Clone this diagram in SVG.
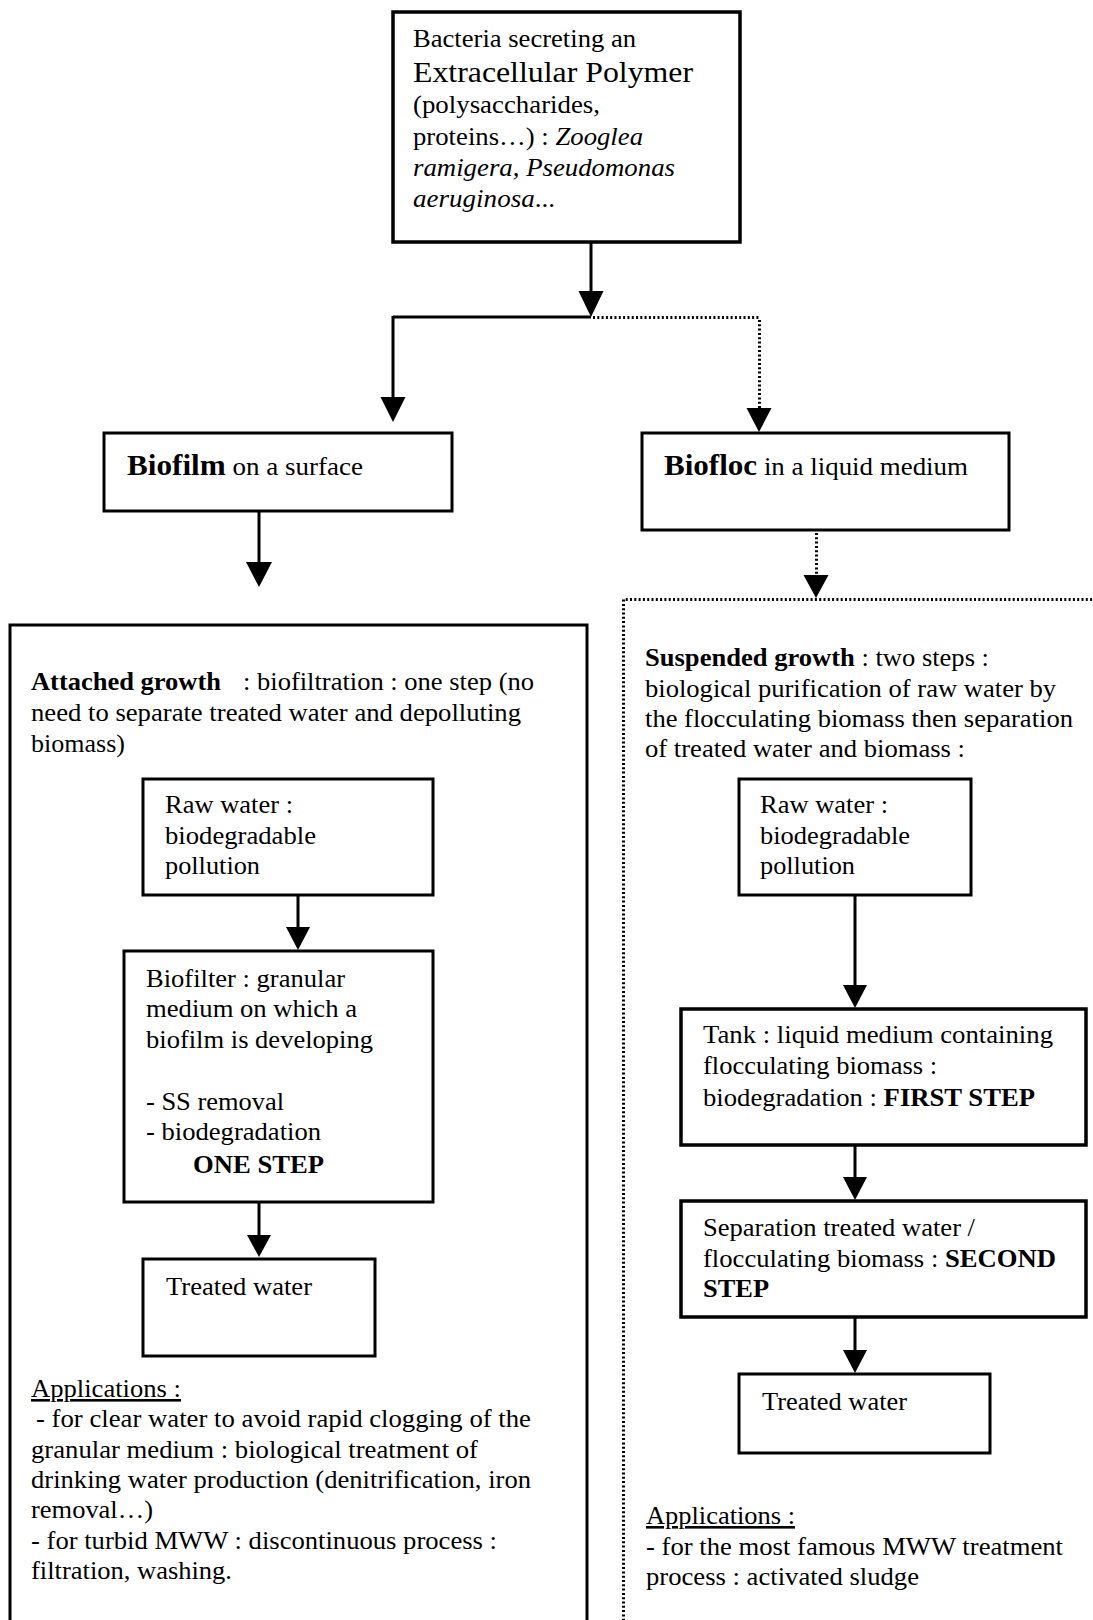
<svg xmlns="http://www.w3.org/2000/svg" width="1093" height="1620" viewBox="0 0 1093 1620">
<style>
text{font-family:"Liberation Serif","Times New Roman",Tinos,serif;font-size:26px;fill:#000}
.b{font-weight:bold}
.i{font-style:italic}
.big{font-size:30px}
.box{fill:#fff;stroke:#000;stroke-width:3}
.thick{stroke-width:3.5}
.conn{stroke:#000;stroke-width:3;fill:none}
.dot{stroke:#000;stroke-width:3;fill:none;stroke-dasharray:2 2.3}
.ah{fill:#000}
.u{text-decoration:underline}
</style>
<rect width="1093" height="1620" fill="#fff"/>

<g id="node-attached-growth">
<rect class="box" x="10" y="625" width="577" height="1100"/>
<text class="b" x="31" y="690" textLength="190" lengthAdjust="spacingAndGlyphs">Attached growth</text>
<text x="243" y="690" textLength="291" lengthAdjust="spacingAndGlyphs">: biofiltration : one step (no</text>
<text x="31" y="721" textLength="490" lengthAdjust="spacingAndGlyphs">need to separate treated water and depolluting</text>
<text x="31" y="752" textLength="94" lengthAdjust="spacingAndGlyphs">biomass)</text>
<text class="u" x="31" y="1397" textLength="150" lengthAdjust="spacingAndGlyphs">Applications :</text>
<text x="36" y="1427" textLength="495" lengthAdjust="spacingAndGlyphs">- for clear water to avoid rapid clogging of the</text>
<text x="31" y="1458" textLength="447" lengthAdjust="spacingAndGlyphs">granular medium : biological treatment of</text>
<text x="31" y="1488" textLength="500" lengthAdjust="spacingAndGlyphs">drinking water production (denitrification, iron</text>
<text x="31" y="1518" textLength="122" lengthAdjust="spacingAndGlyphs">removal…)</text>
<text x="31" y="1549" textLength="466" lengthAdjust="spacingAndGlyphs">- for turbid MWW : discontinuous process :</text>
<text x="31" y="1579" textLength="201" lengthAdjust="spacingAndGlyphs">filtration, washing.</text>
</g>

<g id="node-suspended-growth">
<path class="dot" d="M623.5,1625 V599.5 H1098"/>
<text x="645" y="666" textLength="344" lengthAdjust="spacingAndGlyphs"><tspan class="b">Suspended growth</tspan> : two steps :</text>
<text x="645" y="697" textLength="411" lengthAdjust="spacingAndGlyphs">biological purification of raw water by</text>
<text x="645" y="727" textLength="428" lengthAdjust="spacingAndGlyphs">the flocculating biomass then separation</text>
<text x="645" y="757" textLength="320" lengthAdjust="spacingAndGlyphs">of treated water and biomass :</text>
<text class="u" x="646" y="1524" textLength="149" lengthAdjust="spacingAndGlyphs">Applications :</text>
<text x="646" y="1555" textLength="417" lengthAdjust="spacingAndGlyphs">- for the most famous MWW treatment</text>
<text x="646" y="1585" textLength="273" lengthAdjust="spacingAndGlyphs">process : activated sludge</text>
</g>

<g id="node-bacteria">
<rect class="box thick" x="393" y="12" width="347" height="230"/>
<text x="413" y="47" textLength="223" lengthAdjust="spacingAndGlyphs">Bacteria secreting an</text>
<text class="big" x="413" y="82" textLength="280" lengthAdjust="spacingAndGlyphs">Extracellular Polymer</text>
<text x="413" y="113" textLength="187" lengthAdjust="spacingAndGlyphs">(polysaccharides,</text>
<text x="413" y="145" textLength="230" lengthAdjust="spacingAndGlyphs">proteins…) : <tspan class="i">Zooglea</tspan></text>
<text class="i" x="413" y="176" textLength="262" lengthAdjust="spacingAndGlyphs">ramigera, Pseudomonas</text>
<text x="413" y="207" textLength="142" lengthAdjust="spacingAndGlyphs"><tspan class="i">aeruginosa</tspan>...</text>
</g>

<g id="node-biofilm">
<rect class="box" x="104" y="433" width="348" height="78"/>
<text x="127" y="475" textLength="236" lengthAdjust="spacingAndGlyphs"><tspan class="b big">Biofilm</tspan> on a surface</text>
</g>

<g id="node-biofloc">
<rect class="box" x="642" y="433" width="367" height="97"/>
<text x="664" y="475" textLength="304" lengthAdjust="spacingAndGlyphs"><tspan class="b big">Biofloc</tspan> in a liquid medium</text>
</g>

<g id="node-raw-water-left">
<rect class="box" x="143" y="779" width="290" height="116"/>
<text x="165" y="813" textLength="128" lengthAdjust="spacingAndGlyphs">Raw water :</text>
<text x="165" y="844" textLength="151" lengthAdjust="spacingAndGlyphs">biodegradable</text>
<text x="165" y="874" textLength="95" lengthAdjust="spacingAndGlyphs">pollution</text>
</g>

<g id="node-biofilter">
<rect class="box" x="124" y="951" width="309" height="251"/>
<text x="146" y="987" textLength="199" lengthAdjust="spacingAndGlyphs">Biofilter : granular</text>
<text x="146" y="1017" textLength="211" lengthAdjust="spacingAndGlyphs">medium on which a</text>
<text x="146" y="1048" textLength="227" lengthAdjust="spacingAndGlyphs">biofilm is developing</text>
<text x="146" y="1110" textLength="138" lengthAdjust="spacingAndGlyphs">- SS removal</text>
<text x="146" y="1140" textLength="175" lengthAdjust="spacingAndGlyphs">- biodegradation</text>
<text class="b" x="193" y="1173" textLength="131" lengthAdjust="spacingAndGlyphs">ONE STEP</text>
</g>

<g id="node-treated-water-left">
<rect class="box" x="143" y="1259" width="232" height="97"/>
<text x="166" y="1295" textLength="146" lengthAdjust="spacingAndGlyphs">Treated water</text>
</g>

<g id="node-raw-water-right">
<rect class="box" x="739" y="779" width="232" height="116"/>
<text x="760" y="813" textLength="128" lengthAdjust="spacingAndGlyphs">Raw water :</text>
<text x="760" y="844" textLength="150" lengthAdjust="spacingAndGlyphs">biodegradable</text>
<text x="760" y="874" textLength="95" lengthAdjust="spacingAndGlyphs">pollution</text>
</g>

<g id="node-tank">
<rect class="box thick" x="681" y="1009" width="405" height="136"/>
<text x="703" y="1043" textLength="350" lengthAdjust="spacingAndGlyphs">Tank : liquid medium containing</text>
<text x="703" y="1074" textLength="234" lengthAdjust="spacingAndGlyphs">flocculating biomass :</text>
<text x="703" y="1106" textLength="332" lengthAdjust="spacingAndGlyphs">biodegradation : <tspan class="b">FIRST STEP</tspan></text>
</g>

<g id="node-separation">
<rect class="box thick" x="681" y="1201" width="405" height="116"/>
<text x="703" y="1236" textLength="272" lengthAdjust="spacingAndGlyphs">Separation treated water /</text>
<text x="703" y="1267" textLength="353" lengthAdjust="spacingAndGlyphs">flocculating biomass : <tspan class="b">SECOND</tspan></text>
<text class="b" x="703" y="1297" textLength="66" lengthAdjust="spacingAndGlyphs">STEP</text>
</g>

<g id="node-treated-water-right">
<rect class="box" x="739" y="1374" width="251" height="79"/>
<text x="762" y="1410" textLength="145" lengthAdjust="spacingAndGlyphs">Treated water</text>
</g>

<g id="connectors">
<line class="conn" x1="591" y1="242" x2="591" y2="295"/>
<polygon class="ah" points="578.5,291 603.5,291 591,317"/>
<line class="conn" x1="393" y1="317" x2="591" y2="317"/>
<line class="dot" x1="593" y1="317.5" x2="759" y2="317.5"/>
<line class="conn" x1="393" y1="316" x2="393" y2="400"/>
<polygon class="ah" points="380.5,397 405.5,397 393,422"/>
<line class="dot" x1="759.5" y1="320" x2="759.5" y2="408"/>
<polygon class="ah" points="746.5,408 771.5,408 759,432"/>
<line class="conn" x1="259" y1="511" x2="259" y2="565"/>
<polygon class="ah" points="246,562 272,562 259,587"/>
<line class="dot" x1="816.5" y1="533" x2="816.5" y2="575"/>
<polygon class="ah" points="803.5,575 828.5,575 816,598"/>
<line class="conn" x1="298" y1="895" x2="298" y2="930"/>
<polygon class="ah" points="286,927 310,927 298,950"/>
<line class="conn" x1="259" y1="1202" x2="259" y2="1238"/>
<polygon class="ah" points="247,1235 271,1235 259,1257"/>
<line class="conn" x1="855" y1="895" x2="855" y2="988"/>
<polygon class="ah" points="843,985 867,985 855,1008"/>
<line class="conn" x1="855" y1="1145" x2="855" y2="1180"/>
<polygon class="ah" points="843,1177 867,1177 855,1200"/>
<line class="conn" x1="855" y1="1317" x2="855" y2="1353"/>
<polygon class="ah" points="843,1350 867,1350 855,1373"/>
</g>
</svg>
